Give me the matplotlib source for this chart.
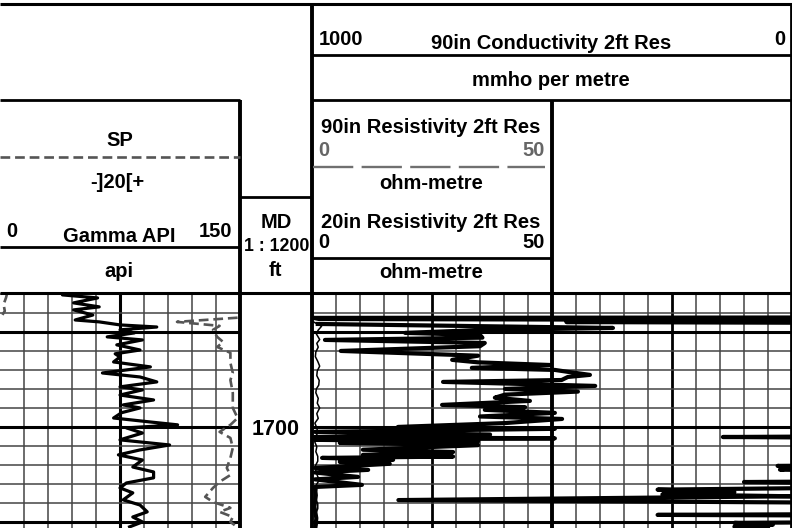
import matplotlib
matplotlib.use('Agg')
import matplotlib.pyplot as plt
import numpy as np

plt.rcParams['font.family'] = ['Liberation Sans', 'DejaVu Sans']
plt.rcParams['font.weight'] = 'bold'
plt.rcParams['lines.scale_dashes'] = False

nan = np.nan

# depth window shown (ft, MD)
top_depth, bottom_depth = 1629.5, 1753.2
depth_labels = [1700]

# gamma ray, API
gr_depth = [1629.5, 1630.5, 1632.1, 1634.7, 1636.8, 1638.4, 1641.1, 1643.7, 1644.7, 1646.3,
            1647.4, 1648.9, 1650.5, 1652.6, 1654.2, 1656.8, 1659.5, 1661.5, 1663.2, 1665.8,
            1668.4, 1671.6, 1673.7, 1676.3, 1678.9, 1680.5, 1683.2, 1685.8, 1688.4, 1690.0,
            1692.5, 1695.3, 1697.4, 1698.9, 1700.5, 1703.2, 1706.8, 1709.5, 1712.1, 1714.7,
            1717.4, 1721.1, 1723.7, 1726.8, 1729.5, 1732.1, 1734.7, 1738.4, 1741.1, 1744.7,
            1747.4, 1750.0, 1752.6]
gr_api = [50, 39, 61, 46, 62, 46, 58, 47, 62, 75,
          98, 75, 84, 67, 89, 73, 87.5, 72, 75, 71,
          94, 64, 87.5, 98, 75, 89, 75, 96, 77, 87.5,
          76, 71, 94, 111, 79, 89, 75, 106, 87.5, 74,
          89, 83, 96, 96, 79, 75, 83, 77, 87.5, 92,
          83, 89, 81]

# SP, mV (gap where the curve leaves the track)
sp_depth = [1629.5, 1632.0, 1635.5, 1639.0, 1641.0, nan,
            1642.5, 1644.7, 1646.8, 1648.9, 1652.6, 1655.3, 1657.9, 1661.0, 1666.3, 1671.6,
            1675.3, 1682.1, 1690.0, 1695.3, 1698.9, 1702.6, 1705.8, 1711.0, 1716.3, 1721.6,
            1725.3, 1728.9, 1732.1, 1736.8, 1739.5, 1742.6, 1744.7, 1747.4, 1750.0, 1752.6]
sp_mv = [-94, -95, -97, -96, -98, nan,
         98, 47.5, 83, 77.5, 81, 86, 81, 92, 92, 94,
         92, 94, 94, 98, 92, 83, 92, 94, 92, 89,
         92, 83, 77.5, 71, 77.5, 92, 83, 94, 92, 97.5]

# 90in conductivity, mmho/m
cond_depth = [1645.8, 1647.9, 1649.0, 1650.5, 1651.6, 1653.0, 1654.2, 1655.8, 1657.5, 1660.0,
              1662.5, 1664.7, 1666.0, 1667.4, 1668.9, 1670.0, 1671.0, 1672.6, 1673.7, 1675.3,
              1676.3, 1678.4, 1680.0, 1681.4, 1683.0, 1684.6, 1686.3, 1688.4, 1689.6, 1691.0,
              1692.6, 1694.5, 1695.8, 1698.0, 1700.0, 1701.0, 1702.6, 1704.0, 1705.3, 1706.0,
              1706.8, 1707.6, 1708.4, 1709.6, 1712.0, 1713.2, 1714.7, 1715.6, 1716.3, 1717.3,
              1718.4, 1719.4, 1721.6, 1722.6, 1724.0, 1726.3, 1727.6, 1730.5, 1731.6, 1736.0,
              1742.0, 1748.0, 1753.2]
cond_mmho = [988, 373, 650, 806, 650, 645, 973, 640, 650, 940,
             654, 708, 654, 504, 667, 494, 467, 421, 467, 480,
             727, 410, 598, 446, 598, 619, 546, 729, 556, 640,
             494, 650, 479, 600, 821, 494, 994, 629, 994, 494,
             994, 654, 942, 654, 894, 706, 894, 706, 979, 831,
             942, 838, 994, 883, 994, 904, 994, 896, 994, 992,
             995, 991, 993]

# 90in resistivity, ohm-m (mostly beyond the scale)
res90_depth = [1642.3, 1642.6, 1643.2, 1644.0, 1644.8, 1645.5,
               1704.5, 1705.3, 1706.2,
               1719.5, 1720.5, 1721.5, 1722.5, 1724.0,
               1728.0, 1729.0, 1731.0,
               1733.0, 1734.3, 1735.5, 1736.5, 1738.5, 1740.5,
               1745.5, 1746.3, 1747.0,
               1749.5, 1750.5, 1751.5, 1752.5, 1753.2]
res90_ohmm = [150, 0.3, 1.5, 150, 53, 150,
              150, 85.6, 150,
              150, 97, 100, 97.5, 150,
              150, 90, 150,
              72, 88, 73, 100, 18, 150,
              150, 72, 150,
              150, 88, 96, 88, 95]

# 20in resistivity, ohm-m
res20_depth = [1644.7, 1647.0, 1649.0, 1651.0, 1654.0, 1656.0, 1658.0, 1660.5, 1663.0, 1665.5,
               1668.0, 1670.5, 1673.0, 1675.5, 1678.0, 1680.0, 1682.0, 1685.0, 1687.5, 1690.0,
               1693.0, 1695.5, 1698.0, 1700.5, 1703.0, 1705.5, 1708.0, 1710.5, 1713.0, 1715.5,
               1718.0, 1720.5, 1723.0, 1725.5, 1728.0, 1730.5, 1733.0, 1735.5, 1738.0, 1740.5,
               1743.0, 1745.5, 1748.0, 1750.5, 1753.2]
res20_ohmm = [0.3, 2.0, 1.3, 0.9, 1.6, 1.0, 1.3, 0.8, 0.7, 1.2,
              1.6, 1.1, 1.0, 1.5, 1.4, 0.9, 0.8, 1.3, 1.1, 1.6,
              1.0, 1.3, 0.6, 1.0, 1.2, 0.7, 0.6, 1.0, 0.8, 1.2,
              1.2, 0.7, 0.8, 1.1, 1.5, 0.9, 1.0, 0.7, 0.8, 1.2,
              1.2, 0.8, 0.9, 1.1, 0.8]

W, H = 792, 528
GRID = '#444444'
GREY = '#666666'


def box(x0, y0, x1, y1):
    # pixel box (from top-left) -> figure fraction
    return [x0 / W, 1 - y1 / H, (x1 - x0) / W, (y1 - y0) / H]


def depthGrid(ax):
    ax.set_ylim(bottom_depth, top_depth)
    ax.set_yticks([1650, 1700, 1750])
    ax.set_yticks([1630, 1640, 1660, 1670, 1680, 1690, 1710, 1720, 1730, 1740], minor=True)
    ax.grid(True, axis='y', which='minor', color=GRID, lw=1.1)
    ax.grid(True, axis='y', which='major', color='k', lw=2.2)


def bareAxis(ax):
    for s in ax.spines.values():
        s.set_visible(False)
    ax.tick_params(which='both', length=0, labelbottom=False, labelleft=False,
                   labeltop=False, labelright=False)


fig = plt.figure(figsize=(W / 100, H / 100), dpi=100)

# gamma / SP track
ax_gr = fig.add_axes(box(0, 293, 240, 528))
ax_gr.set_xlim(0, 150)
ax_gr.set_xticks([75])
ax_gr.set_xticks([15, 30, 45, 60, 90, 105, 120, 135], minor=True)
ax_gr.grid(True, axis='x', which='minor', color=GRID, lw=1.1)
ax_gr.grid(True, axis='x', which='major', color='k', lw=2.2)
depthGrid(ax_gr)
bareAxis(ax_gr)
ax_gr.plot(gr_api, gr_depth, color='k', lw=2.3, zorder=3)

ax_sp = ax_gr.twiny()
ax_sp.set_xlim(-100, 100)
bareAxis(ax_sp)
ax_sp.plot(sp_mv, sp_depth, color='#555555', lw=1.9, dashes=(7, 3.5), zorder=3)

# depth track
ax_md = fig.add_axes(box(240, 293, 312, 528))
ax_md.set_ylim(bottom_depth, top_depth)
ax_md.set_xlim(0, 1)
bareAxis(ax_md)
for d in depth_labels:
    ax_md.annotate(str(d), xy=(0.5, d), xytext=(0, -5.8), textcoords='offset points',
                   ha='center', va='baseline', fontsize=15.5, fontweight='bold')

# resistivity / conductivity track
ax_rs = fig.add_axes(box(312, 293, 792, 528))
ax_rs.set_xlim(1000, 0)
ax_rs.set_xticks([750, 250])
ax_rs.set_xticks([950, 900, 850, 800, 700, 650, 600, 550, 450, 400, 350, 300,
                  200, 150, 100, 50], minor=True)
ax_rs.grid(True, axis='x', which='minor', color=GRID, lw=1.1)
ax_rs.grid(True, axis='x', which='major', color='k', lw=2.0)
depthGrid(ax_rs)
bareAxis(ax_rs)
ax_rs.plot(cond_mmho, cond_depth, color='k', lw=3.0, zorder=3)

ax_res = ax_rs.twiny()
ax_res.set_xlim(0, 100)
bareAxis(ax_res)
ax_res.plot(res90_ohmm, res90_depth, color='k', lw=3.0, zorder=3)
ax_res.plot(res20_ohmm, res20_depth, color='k', lw=1.1, zorder=3)

# header and track borders
hd = fig.add_axes([0, 0, 1, 1])
hd.set_xlim(0, W)
hd.set_ylim(H, 0)
hd.axis('off')
hd.set_zorder(10)

hd.hlines(4, 0, W, color='k', lw=2.2)
hd.hlines(55, 312, W, color='k', lw=2.0)
hd.hlines(100, 0, 240, color='k', lw=2.0)
hd.hlines(100, 312, W, color='k', lw=2.0)
hd.hlines(197, 240, 312, color='k', lw=2.0)
hd.hlines(247, 0, 240, color='k', lw=2.0)
hd.hlines(258, 312, 552, color='k', lw=2.0)
hd.hlines(293, 0, W, color='k', lw=2.2)
hd.vlines(240, 100, H, color='k', lw=2.8)
hd.vlines(312, 4, H, color='k', lw=2.8)
hd.vlines(552, 100, H, color='k', lw=2.8)
hd.vlines(790.5, 4, H, color='k', lw=2.0)

hd.plot([0, 240], [157, 157], color='#555555', lw=1.9, dashes=(7, 3.5))
hd.plot([313, 545], [167, 167], color='#707070', lw=1.7, dashes=(29, 6))

fs = 14.5
hd.text(120, 145.7, 'SP', ha='center', va='baseline', fontsize=fs)
hd.text(117, 188, '-]20[+', ha='center', va='baseline', fontsize=fs)
hd.text(6.5, 237, '0', ha='left', va='baseline', fontsize=fs)
hd.text(119, 242, 'Gamma API', ha='center', va='baseline', fontsize=fs)
hd.text(232, 237, '150', ha='right', va='baseline', fontsize=fs)
hd.text(119, 277, 'api', ha='center', va='baseline', fontsize=fs)

hd.text(276, 228, 'MD', ha='center', va='baseline', fontsize=fs)
hd.text(277, 251, '1 : 1200', ha='center', va='baseline', fontsize=12.8)
hd.text(275, 276, 'ft', ha='center', va='baseline', fontsize=fs)

hd.text(319, 45, '1000', ha='left', va='baseline', fontsize=fs)
hd.text(551, 49, '90in Conductivity 2ft Res', ha='center', va='baseline', fontsize=fs)
hd.text(785, 45, '0', ha='right', va='baseline', fontsize=fs)
hd.text(551, 86, 'mmho per metre', ha='center', va='baseline', fontsize=fs)

hd.text(431, 133, '90in Resistivity 2ft Res', ha='center', va='baseline', fontsize=fs)
hd.text(318, 156.5, '0', ha='left', va='baseline', fontsize=fs, color=GREY)
hd.text(545, 156.5, '50', ha='right', va='baseline', fontsize=fs, color=GREY)
hd.text(431, 189, 'ohm-metre', ha='center', va='baseline', fontsize=fs)
hd.text(431, 228, '20in Resistivity 2ft Res', ha='center', va='baseline', fontsize=fs)
hd.text(318, 248, '0', ha='left', va='baseline', fontsize=fs)
hd.text(545, 248, '50', ha='right', va='baseline', fontsize=fs)
hd.text(431, 277.5, 'ohm-metre', ha='center', va='baseline', fontsize=fs)

fig.savefig('out.png', dpi=100)
